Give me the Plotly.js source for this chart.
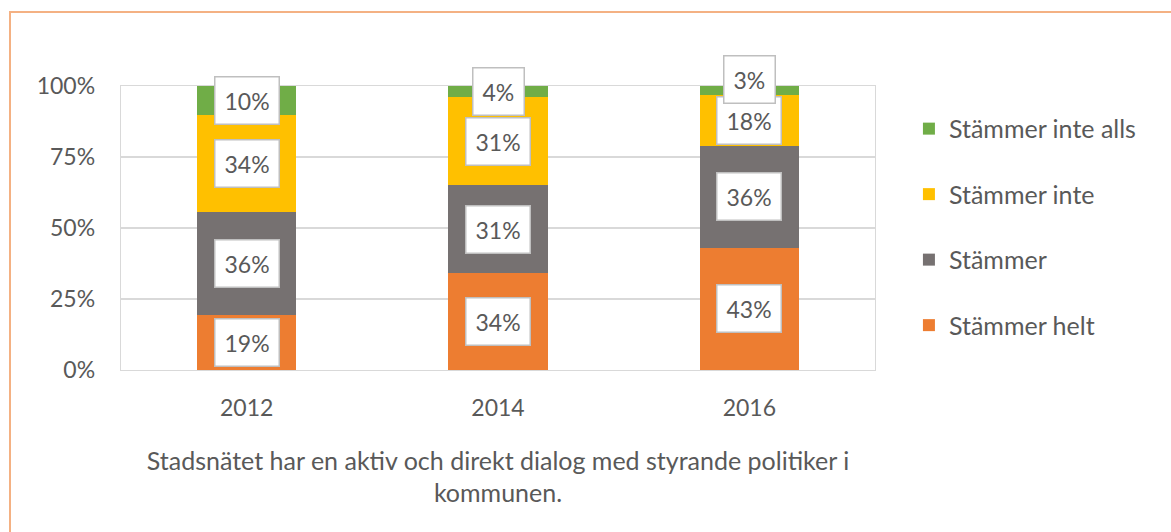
<!DOCTYPE html>
<html>
<head>
<meta charset="utf-8">
<script src="https://cdn.plot.ly/plotly-3.0.1.min.js"></script>
<style>
  html, body { margin: 0; padding: 0; background: #fff; overflow: hidden; }
  #frame { position: absolute; left: 9px; top: 11px; width: 1200px; height: 600px;
           border-left: 2px solid #F4B183; border-top: 2px solid #F4B183; }
  #chart { position: absolute; left: 0; top: 0; width: 1171px; height: 532px; }
</style>
</head>
<body>
<div id="frame"></div>
<div id="chart"></div>
<script>
const years = ['2012', '2014', '2016'];
const seriesNames = ['Stämmer helt', 'Stämmer', 'Stämmer inte', 'Stämmer inte alls'];
const stammerHelt = [19, 34, 43];
const stammer = [36, 31, 36];
const stammerInte = [34, 31, 18];
const stammerInteAlls = [10, 4, 3];
const yTicks = [0, 25, 50, 75, 100];
const axisTitle = 'Stadsnätet har en aktiv och direkt dialog med styrande politiker i<br>kommunen.';

const seriesValues = [stammerHelt, stammer, stammerInte, stammerInteAlls];
const colors = ['#ED7D31', '#767171', '#FFC000', '#70AD47'];
const textColor = '#595959';
const font = 'Lato, "Open Sans", sans-serif';

const traces = seriesValues.map((vals, i) => ({
  type: 'bar',
  name: seriesNames[i],
  x: years,
  y: vals,
  marker: { color: colors[i] },
  legendgroup: 'g' + i,
  legendrank: seriesValues.length - i,
  hoverinfo: 'skip'
}));

// label annotations at segment midpoints (normalised to 100%);
// very small segments get their label lifted, as in the original
const annotations = [];
years.forEach((yr, j) => {
  const total = seriesValues.reduce((s, arr) => s + arr[j], 0);
  let cum = 0;
  seriesValues.forEach((arr) => {
    const v = arr[j] / total * 100;
    const mid = cum + v / 2;
    cum += v;
    annotations.push({
      x: j, y: mid, xref: 'x', yref: 'y',
      yshift: v < 3.5 ? 11 : 0,
      text: arr[j] + '%',
      showarrow: false,
      font: { family: font, size: 23, color: textColor },
      bgcolor: '#FFFFFF',
      bordercolor: '#BFBFBF',
      borderwidth: 1.5,
      borderpad: 9
    });
  });
});

const layout = {
  width: 1171, height: 532,
  paper_bgcolor: 'rgba(0,0,0,0)',
  plot_bgcolor: 'rgba(0,0,0,0)',
  margin: { l: 121, r: 296, t: 86, b: 162 },
  barmode: 'stack',
  barnorm: 'percent',
  bargap: 0.606,
  font: { family: font, size: 23, color: textColor },
  showlegend: true,
  legend: {
    x: 1.045, y: 0.93, xanchor: 'left', yanchor: 'top',
    traceorder: 'grouped',
    tracegroupgap: 30,
    font: { family: font, size: 25, color: textColor },
    bgcolor: 'rgba(0,0,0,0)'
  },
  xaxis: {
    type: 'category',
    range: [-0.5, 2.5],
    showgrid: false,
    showline: true, mirror: true, linecolor: '#D9D9D9', linewidth: 1.3,
    ticks: '',
    ticklabelstandoff: 17,
    tickfont: { family: font, size: 23, color: textColor },
    title: { text: axisTitle, standoff: 32, font: { family: font, size: 25, color: textColor } }
  },
  yaxis: {
    range: [0, 100],
    tickvals: yTicks,
    ticktext: yTicks.map(t => t + '%'),
    showgrid: true, gridcolor: '#D9D9D9', gridwidth: 1.3,
    showline: true, mirror: true, linecolor: '#D9D9D9', linewidth: 1.3,
    zeroline: false,
    ticks: '',
    ticklabelstandoff: 20,
    tickfont: { family: font, size: 23, color: textColor }
  },
  annotations: annotations
};

Plotly.newPlot('chart', traces, layout, { displayModeBar: false, staticPlot: true });
</script>
</body>
</html>
